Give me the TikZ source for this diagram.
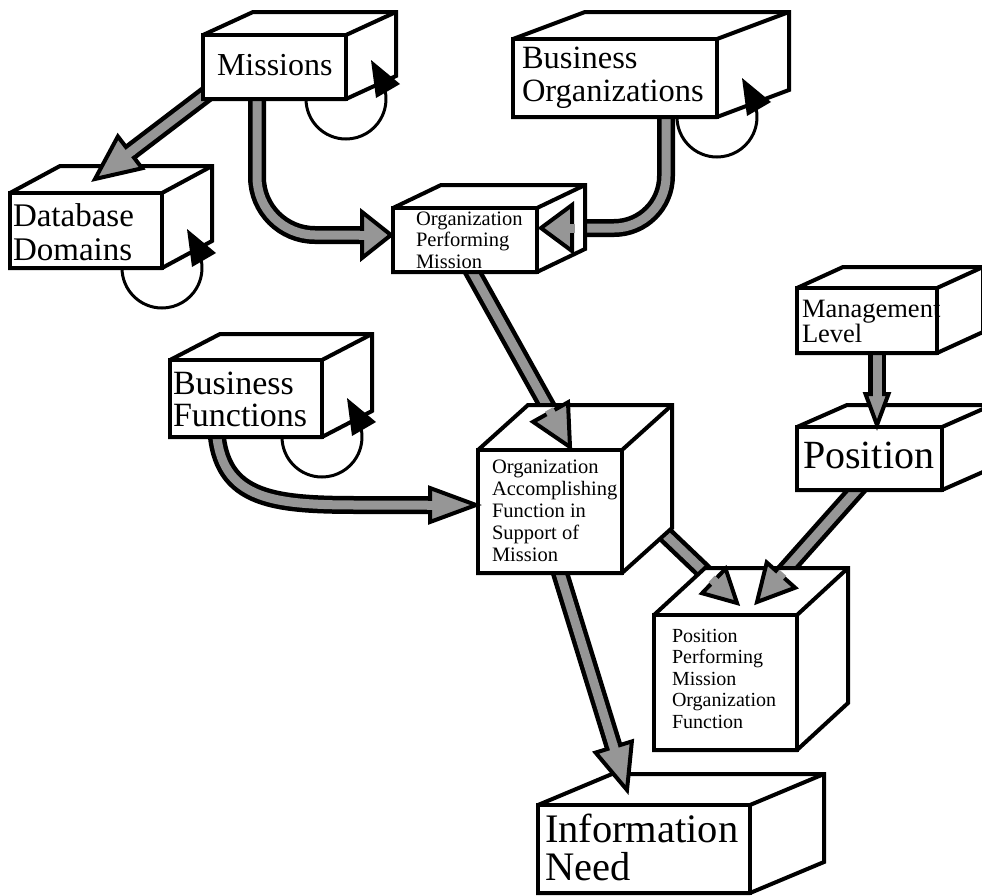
\documentclass[tikz,border=0pt]{standalone}
\usepackage{fontspec}
\setmainfont{Liberation Serif}
\usetikzlibrary{calc}
\pgfdeclarelayer{shaftlayer}
\pgfsetlayers{shaftlayer,main}
\definecolor{arrg}{RGB}{150,150,150}
\tikzset{
  face/.style={draw, fill=white, line width=4pt, line join=miter, inner sep=0pt, outer sep=0pt},
  txt/.style={anchor=base west, inner sep=0pt, outer sep=0pt},
  headst/.style={fill=arrg, draw=black, line width=4pt, line join=miter},
  shaftb/.style={draw=black, line width=18pt},
  shaftg/.style={draw=arrg, line width=9pt},
}
\newcommand\ls[2]{\fontsize{#1}{#2}\selectfont\lineskiplimit=-100pt\relax}
\newcommand\cube[7]{%
  \filldraw[face] (#2,#3) -- ++(#6,-#7) -- ++(#4,0) -- ++(0,#5) -- ++(-#6,#7) -- ++(-#4,0) -- cycle;
  \node[face, minimum width=#4pt, minimum height=#5pt, anchor=north west] (#1) at (#2,#3) {};
  \draw[face] (#1.north east) -- ++(#6,-#7);
}
\newcommand\fathead[4]{%
  \pgfmathsetmacro\fhA{#3+3}\pgfmathsetmacro\fhB{#3-5}%
  \path ($#2!#3pt!#1$) coordinate (fb) ($#2!\fhA pt!#1$) coordinate (fbb) ($#2!\fhB pt!#1$) coordinate (fbf);
  \filldraw[headst] #2 -- ($(fb)!#4pt!90:#2$) -- ($(fb)!#4pt!-90:#2$) -- cycle;
  \draw[shaftg] (fbb) -- (fbf);
}
\newcommand\shaft[2][]{\begin{pgfonlayer}{shaftlayer}\draw[shaftb,#1] #2; \draw[shaftg,#1] #2;\end{pgfonlayer}}
\newcommand\fatarrow[4]{\fathead{#1}{#2}{#3}{#4}\shaft{#1 -- (fb)}}
\newcommand\selfloop[1]{%
  \draw[line width=3pt] ($(#1.south east)+(-40,0)$) arc[start angle=180, end angle=-12, radius=40];
  \fill ($(#1.south east)+(25,-39)$) -- ($(#1.south east)+(54,-15)$) -- ($(#1.south east)+(30,-1)$) -- cycle;
}
\begin{document}
\begin{tikzpicture}[x=1pt,y=-1pt]
\useasboundingbox (0,0) rectangle (982,895);
\clip (0,0) rectangle (982,895);
% boxes
\cube{mis}{203}{35}{143}{64}{50}{23}
\cube{dbd}{10}{193}{152}{75}{50}{27}
\cube{bor}{513}{39}{204}{78}{72}{27}
\cube{opm}{393}{208}{144}{64}{48}{23}
\cube{bfn}{170}{360}{152}{77}{50}{26}
\cube{oaf}{478}{450}{144}{123}{50}{45}
\cube{ppf}{654}{615}{143}{135}{51}{47}
\cube{inf}{538}{805}{212}{88}{74}{31}
\cube{mgl}{797}{288}{140}{65}{46}{21}
\cube{pos}{797}{427}{145}{63}{50}{22}
% texts
\node[txt, font=\ls{32}{34}] (mis-t) at (217,75) {Missions};
\node[txt, font=\ls{33}{34}] (dbd-t) at (13,226) {\vtop{\hbox{Database}\hbox{Domains}}};
\node[txt, font=\ls{32.5}{33}] (bor-t) at (522,68) {\vtop{\hbox{Business}\hbox{Organizations}}};
\node[txt, font=\ls{20.5}{21.5}] (opm-t) at (416,225) {\vtop{\hbox{Organization}\hbox{Performing}\hbox{Mission}}};
\node[txt, font=\ls{34}{32}] (bfn-t) at (173,394) {\vtop{\hbox{Business}\hbox{Functions}}};
\node[txt, font=\ls{20.5}{22.2}] (oaf-t) at (492,473) {\vtop{\hbox{Organization}\hbox{Accomplishing}\hbox{Function in}\hbox{Support of}\hbox{Mission}}};
\node[txt, font=\ls{20}{21.5}] (ppf-t) at (672,642) {\vtop{\hbox{Position}\hbox{Performing}\hbox{Mission}\hbox{Organization}\hbox{Function}}};
\node[txt, font=\ls{26.5}{25}] (mgl-t) at (802,317) {\vtop{\hbox{Management}\hbox{Level}}};
\node[txt, font=\ls{40}{40}] (pos-t) at (803,468) {Position};
\node[txt, font=\ls{40.5}{38}] (inf-t) at (545,842) {\vtop{\hbox{Information}\hbox{Need}}};
% self loops
\selfloop{mis}
\selfloop{dbd}
\selfloop{bor}
\selfloop{bfn}
% connector end points
\coordinate (a1s) at ($(mis.south west)+(22,-19)$);
\coordinate (a1t) at ($(dbd.north)+(9,-14)$);
\coordinate (a2s) at ($(mis.south)+(-17.5,-14)$);
\coordinate (a2t) at ($(opm.west)+(-2,-5)$);
\coordinate (a2d) at ($(a2t)+(-50,0)$);
\coordinate (a3s) at ($(bor.south)+(51,-17)$);
\coordinate (a3t) at ($(opm.east)+(4,-12)$);
\coordinate (a3d) at ($(a3t)+(50,0)$);
\coordinate (a4s) at ($(opm.south)+(-2,-17)$);
\coordinate (a4t) at ($(oaf.north)+(20,-3)$);
\coordinate (a5s) at ($(bfn.south west)+(46,-17)$);
\coordinate (a5t) at ($(oaf.west)+(-2,-6.5)$);
\coordinate (a5d) at ($(a5t)+(-60,0)$);
\coordinate (a6s) at ($(oaf.south east)+(28,-53)$);
\coordinate (a6t) at ($(ppf.north)+(11.5,-12)$);
\coordinate (a7s) at ($(pos.south)+(0.5,-15)$);
\coordinate (a7t) at ($(ppf.north)+(31.5,-13)$);
\coordinate (a8s) at ($(oaf.south)+(6,-13)$);
\coordinate (a8t) at ($(inf.north)+(-17,-15)$);
\coordinate (a9s) at ($(mgl.south)+(10,-13)$);
\coordinate (a9t) at ($(pos.north)+(7.5,-2)$);
% connectors
\fatarrow{(a1s)}{(a1t)}{44}{20}
\fathead{(a2d)}{(a2t)}{29}{23}
\shaft[rounded corners=58pt]{(a2s) |- (fb)}
\fathead{(a3d)}{(a3t)}{31}{23}
\shaft[rounded corners=52pt]{(a3s) |- (fb)}
\fatarrow{(a4s)}{(a4t)}{40}{20}
\fathead{(a5d)}{(a5t)}{46}{17}
\shaft{(a5s) .. controls +(0,80) and +(-90,0) .. ($(fb)+(-70,0)$) -- (fb)}
\fatarrow{(a6s)}{(a6t)}{32}{17}
\fatarrow{(a7s)}{(a7t)}{36}{19}
\fatarrow{(a8s)}{(a8t)}{45}{19}
\fatarrow{(a9s)}{(a9t)}{31}{11.5}
\end{tikzpicture}
\end{document}
